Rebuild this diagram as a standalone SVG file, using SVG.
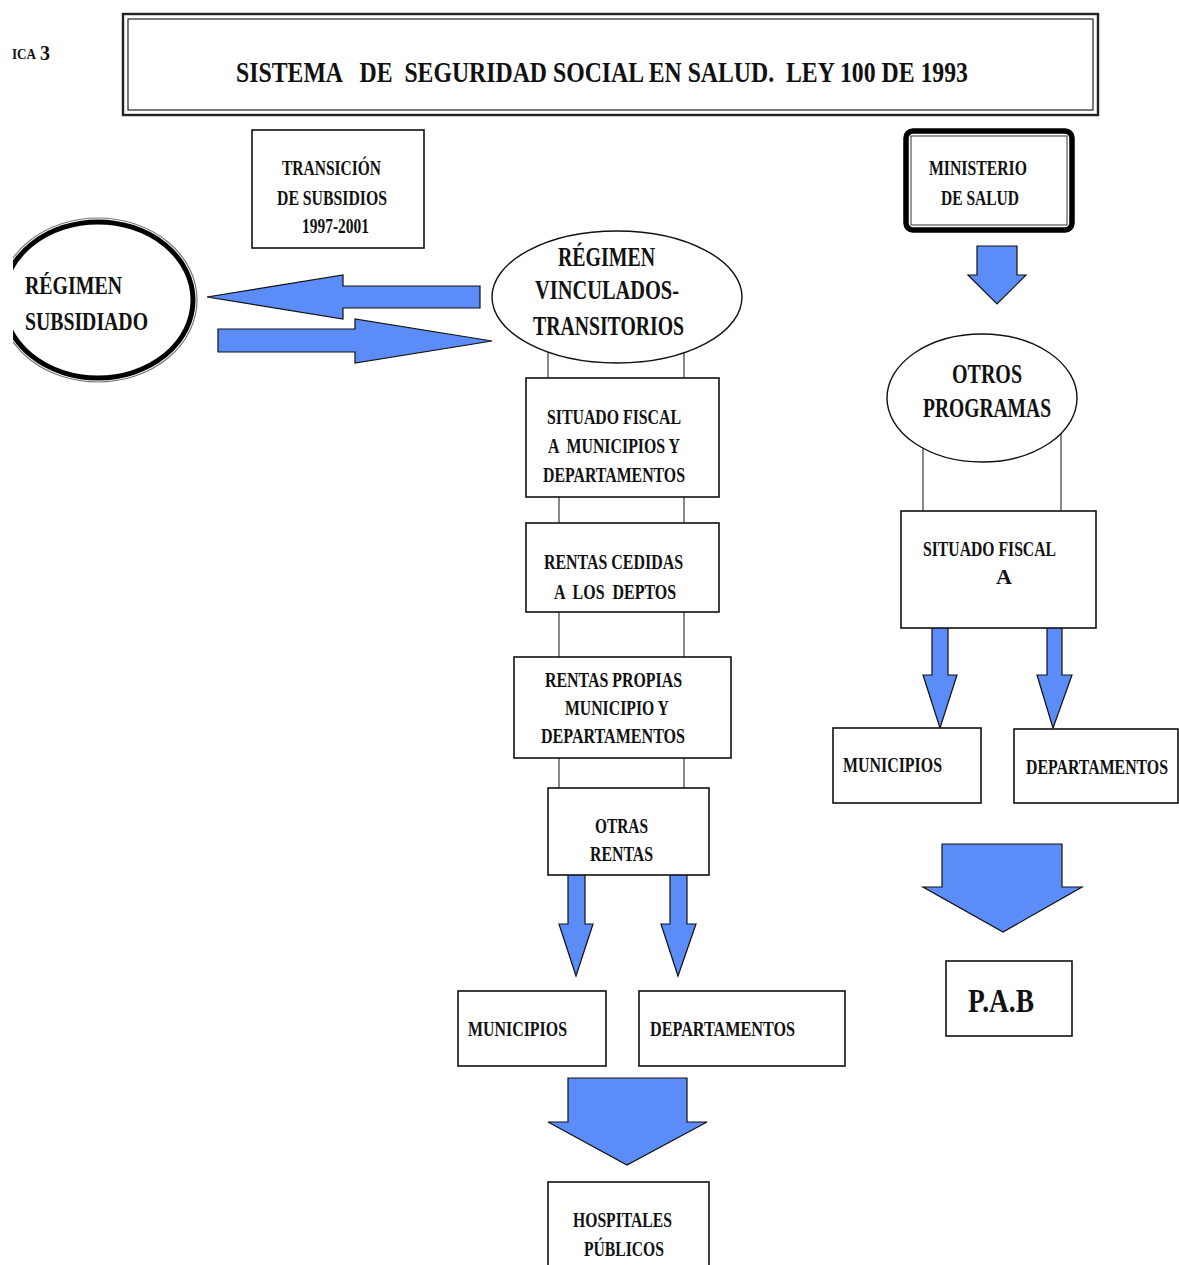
<svg xmlns="http://www.w3.org/2000/svg" width="1179" height="1265" viewBox="0 0 1179 1265">
<style>
text{font-family:'Liberation Serif','DejaVu Serif',serif;font-weight:bold;fill:#111}
.box{fill:#fff;stroke:#111;stroke-width:1.6}
.ln{stroke:#555;stroke-width:1.4;fill:none}
.arr{fill:#5b8cf8;stroke:#111;stroke-width:1.2;stroke-linejoin:miter}
</style>
<defs>
<clipPath id="clipL"><rect x="13" y="0" width="400" height="1265"/></clipPath>
</defs>
<rect x="0" y="0" width="1179" height="1265" fill="#fff"/>

<g id="label-ica">
<text x="12" y="59" font-size="15" textLength="24" lengthAdjust="spacingAndGlyphs">ICA</text>
<text x="40" y="60" font-size="20">3</text>
</g>

<g id="title">
<rect x="123" y="14" width="975" height="101" fill="#fff" stroke="#222" stroke-width="2.4"/>
<rect x="128" y="19" width="965" height="91" fill="none" stroke="#222" stroke-width="1.2"/>
<text x="236" y="82" font-size="29" xml:space="preserve" textLength="732" lengthAdjust="spacingAndGlyphs">SISTEMA   DE  SEGURIDAD SOCIAL EN SALUD.  LEY 100 DE 1993</text>
</g>

<g id="connectors">
<line class="ln" x1="548" y1="330" x2="548" y2="378"/>
<line class="ln" x1="684" y1="330" x2="684" y2="378"/>
<line class="ln" x1="559" y1="497" x2="559" y2="523"/>
<line class="ln" x1="684" y1="497" x2="684" y2="523"/>
<line class="ln" x1="559" y1="612" x2="559" y2="657"/>
<line class="ln" x1="684" y1="612" x2="684" y2="657"/>
<line class="ln" x1="559" y1="758" x2="559" y2="788"/>
<line class="ln" x1="684" y1="758" x2="684" y2="788"/>
<line class="ln" x1="923" y1="420" x2="923" y2="511"/>
<line class="ln" x1="1061" y1="420" x2="1061" y2="511"/>
<polygon class="arr" points="207,297 343,275 343,286 480,286 480,308 343,308 343,319"/>
<polygon class="arr" points="218,329 355,329 355,319 492,341 355,363 355,352 218,352"/>
<polygon class="arr" points="977,246 1017,246 1017,275 1026,275 997,304 968,275 977,275"/>
<polygon class="arr" points="568,873 585,873 585,924 593,924 576,976 559,924 568,924"/>
<polygon class="arr" points="670,873 687,873 687,924 696,924 678,976 661,924 670,924"/>
<polygon class="arr" points="932,627 948,627 948,675 957,675 940,728 923,675 932,675"/>
<polygon class="arr" points="1047,627 1062,627 1062,675 1072,675 1053,728 1037,675 1047,675"/>
<polygon class="arr" points="568,1078 687,1078 687,1122 707,1122 627,1165 548,1122 568,1122"/>
<polygon class="arr" points="942,844 1062,844 1062,887 1082,887 1003,932 923,887 942,887"/>
</g>

<g id="transicion">
<rect class="box" x="252" y="130" width="172" height="118"/>
<text x="282" y="175" font-size="21" textLength="99" lengthAdjust="spacingAndGlyphs">TRANSICIÓN</text>
<text x="277" y="205" font-size="21" textLength="110" lengthAdjust="spacingAndGlyphs">DE SUBSIDIOS</text>
<text x="302" y="233" font-size="21" textLength="67" lengthAdjust="spacingAndGlyphs">1997-2001</text>
</g>

<g id="regimen-subsidiado">
<g clip-path="url(#clipL)">
<ellipse cx="98" cy="300" rx="99" ry="82" fill="#fff" stroke="#777" stroke-width="1.2"/>
<ellipse cx="98" cy="300" rx="95" ry="78" fill="none" stroke="#000" stroke-width="5"/>
</g>
<text x="25" y="294" font-size="26" textLength="97" lengthAdjust="spacingAndGlyphs">RÉGIMEN</text>
<text x="25" y="330" font-size="26" textLength="123" lengthAdjust="spacingAndGlyphs">SUBSIDIADO</text>
</g>

<g id="regimen-vinculados">
<ellipse cx="617" cy="297" rx="125" ry="66" fill="#fff" stroke="#111" stroke-width="1.4"/>
<text x="558" y="266" font-size="28" textLength="97" lengthAdjust="spacingAndGlyphs">RÉGIMEN</text>
<text x="535" y="299" font-size="28" textLength="144" lengthAdjust="spacingAndGlyphs">VINCULADOS-</text>
<text x="533" y="335" font-size="28" textLength="151" lengthAdjust="spacingAndGlyphs">TRANSITORIOS</text>
</g>

<g id="situado-fiscal-mun-dep">
<rect class="box" x="526" y="378" width="193" height="119"/>
<text x="547" y="424" font-size="22" textLength="134" lengthAdjust="spacingAndGlyphs">SITUADO FISCAL</text>
<text x="548" y="453" font-size="22" xml:space="preserve" textLength="132" lengthAdjust="spacingAndGlyphs">A  MUNICIPIOS Y</text>
<text x="543" y="482" font-size="22" textLength="142" lengthAdjust="spacingAndGlyphs">DEPARTAMENTOS</text>
</g>

<g id="rentas-cedidas">
<rect class="box" x="526" y="523" width="193" height="89"/>
<text x="544" y="569" font-size="22" textLength="139" lengthAdjust="spacingAndGlyphs">RENTAS CEDIDAS</text>
<text x="554" y="599" font-size="22" xml:space="preserve" textLength="122" lengthAdjust="spacingAndGlyphs">A  LOS  DEPTOS</text>
</g>

<g id="rentas-propias">
<rect class="box" x="514" y="657" width="217" height="101"/>
<text x="545" y="687" font-size="22" textLength="137" lengthAdjust="spacingAndGlyphs">RENTAS PROPIAS</text>
<text x="565" y="715" font-size="22" textLength="104" lengthAdjust="spacingAndGlyphs">MUNICIPIO Y</text>
<text x="541" y="743" font-size="22" textLength="144" lengthAdjust="spacingAndGlyphs">DEPARTAMENTOS</text>
</g>

<g id="otras-rentas">
<rect class="box" x="548" y="788" width="161" height="87"/>
<text x="595" y="833" font-size="22" textLength="53" lengthAdjust="spacingAndGlyphs">OTRAS</text>
<text x="590" y="861" font-size="22" textLength="63" lengthAdjust="spacingAndGlyphs">RENTAS</text>
</g>

<g id="municipios-1">
<rect class="box" x="458" y="991" width="148" height="75"/>
<text x="468" y="1036" font-size="22" textLength="99" lengthAdjust="spacingAndGlyphs">MUNICIPIOS</text>
</g>

<g id="departamentos-1">
<rect class="box" x="639" y="991" width="206" height="75"/>
<text x="650" y="1036" font-size="22" textLength="145" lengthAdjust="spacingAndGlyphs">DEPARTAMENTOS</text>
</g>

<g id="hospitales">
<rect class="box" x="548" y="1182" width="161" height="100"/>
<text x="573" y="1227" font-size="22" textLength="99" lengthAdjust="spacingAndGlyphs">HOSPITALES</text>
<text x="584" y="1256" font-size="22" textLength="80" lengthAdjust="spacingAndGlyphs">PÚBLICOS</text>
</g>

<g id="ministerio">
<rect x="906" y="131" width="166" height="99" rx="7" fill="#fff" stroke="#000" stroke-width="5.5"/>
<rect x="911" y="136" width="156" height="89" fill="none" stroke="#333" stroke-width="1"/>
<text x="929" y="175" font-size="20" textLength="98" lengthAdjust="spacingAndGlyphs">MINISTERIO</text>
<text x="941" y="205" font-size="20" textLength="78" lengthAdjust="spacingAndGlyphs">DE SALUD</text>
</g>

<g id="otros-programas">
<ellipse cx="982" cy="398" rx="95" ry="64" fill="#fff" stroke="#111" stroke-width="1.4"/>
<text x="952" y="383" font-size="28" textLength="70" lengthAdjust="spacingAndGlyphs">OTROS</text>
<text x="923" y="417" font-size="28" textLength="128" lengthAdjust="spacingAndGlyphs">PROGRAMAS</text>
</g>

<g id="situado-fiscal-a">
<rect class="box" x="901" y="511" width="195" height="117"/>
<text x="923" y="556" font-size="22" textLength="133" lengthAdjust="spacingAndGlyphs">SITUADO FISCAL</text>
<text x="996" y="584" font-size="22">A</text>
</g>

<g id="municipios-2">
<rect class="box" x="833" y="728" width="148" height="75"/>
<text x="843" y="772" font-size="22" textLength="99" lengthAdjust="spacingAndGlyphs">MUNICIPIOS</text>
</g>

<g id="departamentos-2">
<rect class="box" x="1014" y="729" width="164" height="74"/>
<text x="1026" y="774" font-size="22" textLength="142" lengthAdjust="spacingAndGlyphs">DEPARTAMENTOS</text>
</g>

<g id="pab">
<rect class="box" x="946" y="961" width="126" height="75"/>
<text x="968" y="1012" font-size="33" textLength="66" lengthAdjust="spacingAndGlyphs">P.A.B</text>
</g>
</svg>
